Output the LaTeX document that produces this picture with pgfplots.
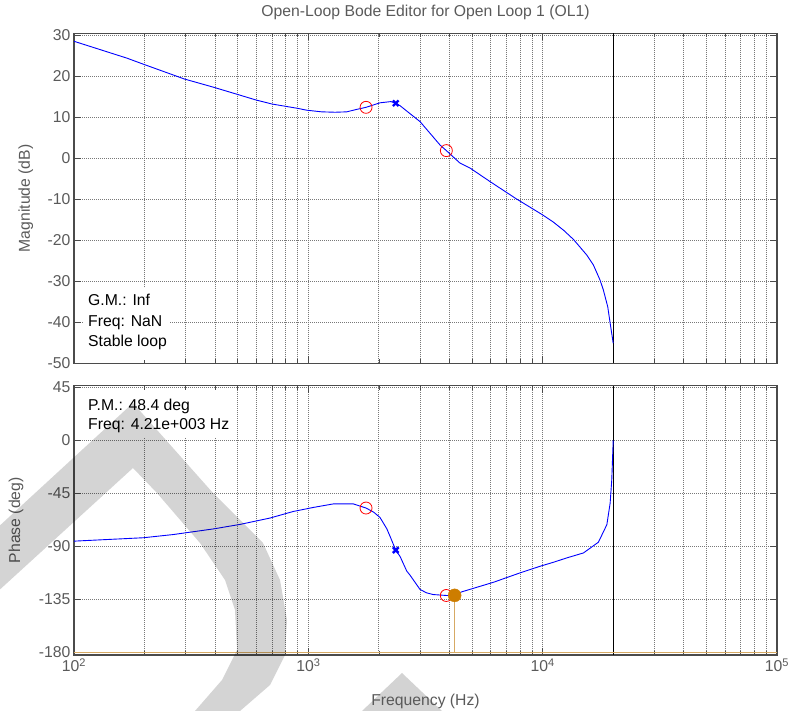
\documentclass[border=0pt]{standalone}
\usepackage{pgfplots}
\pgfplotsset{compat=1.18}
\usepackage{fontspec}
\setmainfont{Liberation Sans}
\definecolor{axgray}{RGB}{75,75,75}
\definecolor{txtgray}{RGB}{90,90,90}
\definecolor{gridgray}{RGB}{120,120,120}
\definecolor{ptan}{RGB}{215,170,100}
\definecolor{porange}{RGB}{205,125,0}
\definecolor{wmgray}{RGB}{211,211,211}
\newcommand{\fs}{\fontsize{15.8}{19}\selectfont}

\begin{document}
\begin{tikzpicture}
\path[use as bounding box] (0,0) rectangle (790bp,711bp);
\fill[wmgray] (362bp,0bp) -- (402bp,38bp) -- (442bp,0bp) -- cycle;

% ---------- Magnitude ----------
\begin{axis}[
  xmode=log, scale only axis, width=703bp, height=329.8bp,
  at={(74bp,347.7bp)}, anchor=south west,
  xmin=100, xmax=100000,
  xtick={100,1000,10000,100000},
  minor xtick={200,300,400,500,600,700,800,900,2000,3000,4000,5000,6000,7000,8000,9000,20000,30000,40000,50000,60000,70000,80000,90000},
  axis line style={draw=axgray, line width=1.1bp},
  every tick/.append style={draw=axgray, line width=0.7bp},
  tick align=inside, tick pos=both,
  major tick length=7bp, minor tick length=4bp,
  xmajorgrids, xminorgrids, ymajorgrids,
  major grid style={draw=gridgray, line width=0.8bp, dash pattern=on 1.2bp off 0.8bp},
  minor grid style={draw=gridgray, line width=0.8bp, dash pattern=on 1.2bp off 0.8bp},
  ticklabel style={font=\fs, text=txtgray},
  ymin=-50, ymax=30.4,
  ytick={-50,-40,-30,-20,-10,0,10,20,30},
  yticklabels={-50,-40,-30,-20,-10,0,10,20,30},
  xticklabels={},
  title={Open-Loop Bode Editor for Open Loop 1 (OL1)},
  title style={font=\fs, text=txtgray, at={(axis description cs:0.5,1.034)}, anchor=base},
  ylabel={Magnitude (dB)},
  ylabel style={font=\fs, text=txtgray, at={(axis description cs:-0.0626,0.5)}, anchor=base},
]
\addplot[black, line width=1.1bp] coordinates {(20000,-50) (20000,30.4)};
\addplot[blue, line width=0.9bp] coordinates {
(100,28.5)(168,24.4)(198,22.9)(296,19.3)(394,17.3)(495,15.6)(597,14.2)(700,13.2)
(891,12.2)(984,11.7)(1140,11.3)(1300,11.2)(1459,11.3)(1582,11.8)(1763,12.4)
(2022,13.5)(2250,13.8)(2360,13.4)(2462,12.8)(2999,8.9)(3650,3.2)(3882,1.85)
(4439,-1.2)(4897,-2.4)(5961,-5.7)(7691,-9.85)(9980,-13.8)(11120,-15.6)
(12300,-17.6)(13530,-19.8)(15420,-23.6)(16450,-26.0)(17570,-29.7)(18150,-32.1)(18950,-36.2)
(19410,-40.2)(20000,-45.1)};
\addplot[only marks, mark=o, mark size=6bp, red, mark options={line width=0.8bp}] coordinates {(1763,12.4)(3882,1.85)};
\addplot[only marks, mark=x, mark size=4bp, blue, mark options={line width=2.4bp}] coordinates {(2360,13.4)};
\end{axis}

% ---------- Phase ----------
\begin{axis}[
  xmode=log, scale only axis, width=703bp, height=269.3bp,
  at={(74bp,56bp)}, anchor=south west,
  xmin=100, xmax=100000,
  xtick={100,1000,10000,100000},
  minor xtick={200,300,400,500,600,700,800,900,2000,3000,4000,5000,6000,7000,8000,9000,20000,30000,40000,50000,60000,70000,80000,90000},
  axis line style={draw=axgray, line width=1.1bp},
  every tick/.append style={draw=axgray, line width=0.7bp},
  tick align=inside, tick pos=both,
  major tick length=7bp, minor tick length=4bp,
  xmajorgrids, xminorgrids, ymajorgrids,
  major grid style={draw=gridgray, line width=0.8bp, dash pattern=on 1.2bp off 0.8bp},
  minor grid style={draw=gridgray, line width=0.8bp, dash pattern=on 1.2bp off 0.8bp},
  ticklabel style={font=\fs, text=txtgray},
  ymin=-182.2, ymax=46.3,
  ytick={-180,-135,-90,-45,0,45},
  yticklabels={-180,-135,-90,-45,0,45},
  xticklabels={10\textsuperscript{2},10\textsuperscript{3},10\textsuperscript{4},10\textsuperscript{5}},
  xlabel={Frequency (Hz)},
  xlabel style={font=\fs, text=txtgray, at={(axis description cs:0.5,-0.188)}, anchor=base},
  ylabel={Phase (deg)},
  ylabel style={font=\fs, text=txtgray, at={(axis description cs:-0.0768,0.5)}, anchor=base},
]
\addplot[black, line width=1.1bp] coordinates {(20000,-182.2) (20000,46.3)};
\addplot[ptan, line width=1.4bp] coordinates {(100,-180) (100000,-180)};
\addplot[ptan, line width=1.4bp] coordinates {(4210,-131.6) (4210,-180)};
\addplot[blue, line width=0.9bp] coordinates {
(100,-85.6)(198,-82.7)(265,-80.0)(394,-75.2)(511,-71.4)(686,-66.0)(863,-60.4)
(1050,-57.0)(1278,-54.0)(1556,-54.0)(1763,-57.5)(1900,-61.0)(2022,-65.5)(2161,-75.0)
(2232,-81.5)(2360,-93.2)(2462,-98.5)(2630,-111.0)(2717,-114.5)(2997,-126.6)
(3200,-129.5)(3412,-130.9)(3880,-131.7)(4210,-131.6)(4517,-128.6)(6165,-120.5)
(8011,-112.5)(9752,-106.9)(11120,-103.5)(12680,-99.8)(14930,-95.6)(17290,-86.5)
(18790,-71.6)(19410,-53.3)(19720,-33.6)(20000,0)};
\addplot[only marks, mark=o, mark size=6bp, red, mark options={line width=0.8bp}] coordinates {(1763,-57.5)(3880,-131.7)};
\addplot[only marks, mark=x, mark size=4bp, blue, mark options={line width=2.4bp}] coordinates {(2360,-93.2)};
\addplot[only marks, mark=*, mark size=6.5bp, porange, mark options={draw=porange, fill=porange}] coordinates {(4210,-131.6)};
\end{axis}

% ---------- text boxes ----------
\fill[white] (83bp,351bp) rectangle (170bp,423bp);
\node[anchor=base west, inner sep=0pt, font=\fs] at (88bp,405bp) {G.M.: Inf};
\node[anchor=base west, inner sep=0pt, font=\fs] at (88bp,384bp) {Freq: NaN};
\node[anchor=base west, inner sep=0pt, font=\fs] at (88bp,364bp) {Stable loop};

\fill[white] (83bp,274bp) rectangle (232bp,321bp);
\node[anchor=base west, inner sep=0pt, font=\fs] at (88bp,300.3bp) {P.M.: 48.4 deg};
\node[anchor=base west, inner sep=0pt, font=\fs] at (88bp,281bp) {Freq: 4.21e+003 Hz};

% ---------- watermark overlay ----------
\begin{scope}[x=1bp, y=1bp]
\clip (0,0) rectangle (790,711);
\fill[black, fill opacity=0.17]
 (-5,181) -- (133,308) -- (213,218) -- (263,168) -- (280,131) -- (287,91) -- (285,56)
 -- (270,26) -- (240,0) -- (195,0) -- (222,31) -- (237,61) -- (235,101) -- (225,131)
 -- (200,168) -- (157,218) -- (133,243) -- (-5,117) -- cycle;
\end{scope}
\end{tikzpicture}
\end{document}
